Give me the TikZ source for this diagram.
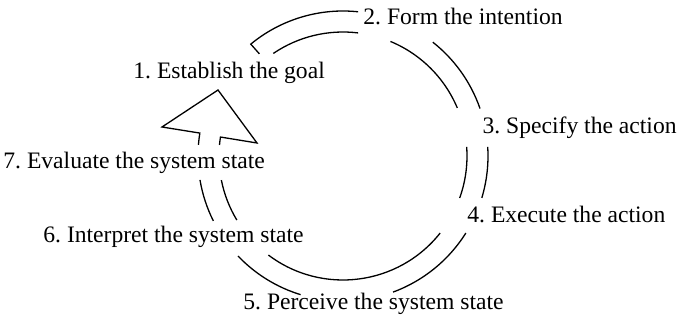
\documentclass[tikz,border=0pt]{standalone}
\usepackage{fontspec}
\setmainfont{Liberation Serif}
\usetikzlibrary{calc}
\begin{document}
\frenchspacing
\begin{tikzpicture}[x=0.5pt,y=0.5pt,
  ring/.style={line width=0.65pt, line cap=butt},
  lbl/.style={anchor=base west, inner sep=0pt, font=\fontsize{11.8}{14}\selectfont\frenchspacing}]
\useasboundingbox (0,0) rectangle (680,-321);
\coordinate (c) at (343,-156);
% outer ring pieces (R=145)
\draw[ring] ($(c)+(129.3:132)$) -- ($(c)+(129.5:145)$) arc[start angle=129.5,end angle=84,radius=145];
\draw[ring] ($(c)+(51.7:145)$) arc[start angle=51.7,end angle=19.1,radius=145];
\draw[ring] ($(c)+(3.6:145)$) arc[start angle=3.6,end angle=-16.8,radius=145];
\draw[ring] ($(c)+(-32.1:145)$) arc[start angle=-32.1,end angle=-69.8,radius=145];
\draw[ring] ($(c)+(-107:145)$) arc[start angle=-107,end angle=-136.4,radius=145];
\draw[ring] ($(c)+(-153.4:145)$) arc[start angle=-153.4,end angle=-170.5,radius=145];
% inner ring pieces (R=124)
\draw[ring] ($(c)+(124.2:124)$) arc[start angle=124.2,end angle=83,radius=124];
\draw[ring] ($(c)+(67.5:124)$) arc[start angle=67.5,end angle=22.8,radius=124];
\draw[ring] ($(c)+(4.2:124)$) arc[start angle=4.2,end angle=-19.8,radius=124];
\draw[ring] ($(c)+(-38.4:124)$) arc[start angle=-38.4,end angle=-127,radius=124];
\draw[ring] ($(c)+(-148.9:124)$) arc[start angle=-148.9,end angle=-168.8,radius=124];
% arrow head with shaft
\coordinate (wl) at (162,-127);
\coordinate (tip) at (218,-90);
\coordinate (wr) at (257,-143);
\draw[ring, line join=miter] ($(c)+(175.6:145)$) arc[start angle=175.6,end angle=170.9,radius=145]
  -- (wl) -- (tip) -- (wr) -- ($(c)+(171.2:124)$) arc[start angle=171.2,end angle=174.9,radius=124];
% labels
\node[lbl] (l1) at (133,-78) {1. Establish the goal};
\node[lbl] (l2) at (363,-25) {2. Form the intention};
\node[lbl, anchor=base east] (l3) at (677,-133) {3. Specify the action};
\node[lbl] (l4) at (467,-222) {4. Execute the action};
\node[lbl] (l5) at (243,-309) {5. Perceive the system state};
\node[lbl] (l6) at (43,-242) {6. Interpret the system state};
\node[lbl] (l7) at (3,-168) {7. Evaluate the system state};
\end{tikzpicture}
\end{document}
